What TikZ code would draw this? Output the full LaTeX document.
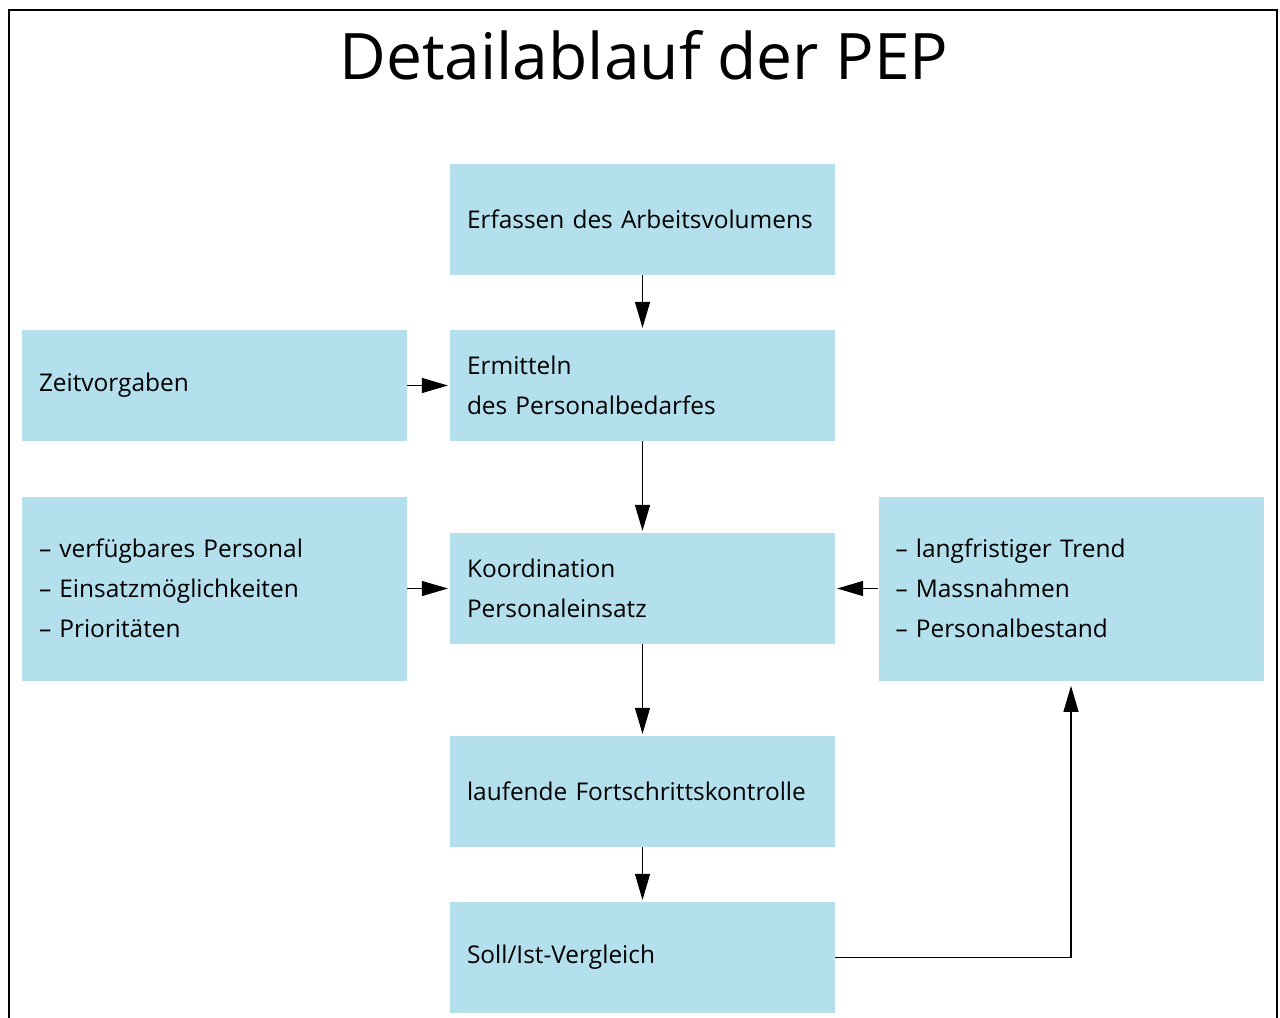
\documentclass[tikz,border=0pt]{standalone}
\usepackage{fontspec}
\setmainfont{Open Sans}
\usetikzlibrary{arrows.meta,positioning}
\definecolor{boxblue}{RGB}{179,224,236}
\newcommand{\boxfont}{\fontsize{13.9}{22.8}\selectfont\hyphenpenalty=10000\relax}

\begin{document}
\begin{tikzpicture}[shorten >=1pt,node distance=3.32cm,on grid,
    >={Triangle[length=0.52cm,width=0.3cm]},
    box/.style={fill=boxblue,text width=7.02cm,inner xsep=0.34cm,align=left,
        minimum height=2.22cm,font=\boxfont},
    listbox/.style={box,minimum height=3.68cm}]
    \useasboundingbox (0,0) rectangle (25.6,-20.34);
    \draw[line width=1.2pt] (0.18,-21) |- (25.54,-0.2) -- (25.54,-21);
    \node[anchor=base,font=\fontsize{36.5}{40}\selectfont] (title) at (12.88,-1.58) {Detailablauf der PEP};
	\node[box] (erfassen) at (12.85,-4.39) {Erfassen des Arbeitsvolumens};
	\node[box,below=of erfassen] (ermitteln) {Ermitteln\\des Personalbedarfes};
	\node[box,left=8.56cm of ermitteln] (zeit) {Zeitvorgaben};
	\node[box,below=4.06cm of ermitteln] (koord) {Koordination\\Personaleinsatz};
	\node[listbox,left=8.56cm of koord] (personal) {-- verfügbares Personal\\-- Einsatzmöglichkeiten\\-- Prioritäten};
	\node[listbox,right=8.57cm of koord] (trend) {-- langfristiger Trend\\-- Massnahmen\\-- Personalbestand};
	\node[box,below=4.06cm of koord] (kontrolle) {laufende Fortschrittskontrolle};
	\node[box,below=of kontrolle] (soll) {Soll/Ist-Vergleich};
    \path[line width=0.6pt] (erfassen) edge[->] (ermitteln)
        (zeit) edge[->] (ermitteln)
        (ermitteln) edge[->] (koord)
        (personal) edge[->] (koord)
        (trend) edge[->] (koord)
        (koord) edge[->] (kontrolle)
        (kontrolle) edge[->] (soll);
    \draw[line width=0.6pt,->,shorten >=0.1cm] (soll) -| (trend);
\end{tikzpicture}
\end{document}
